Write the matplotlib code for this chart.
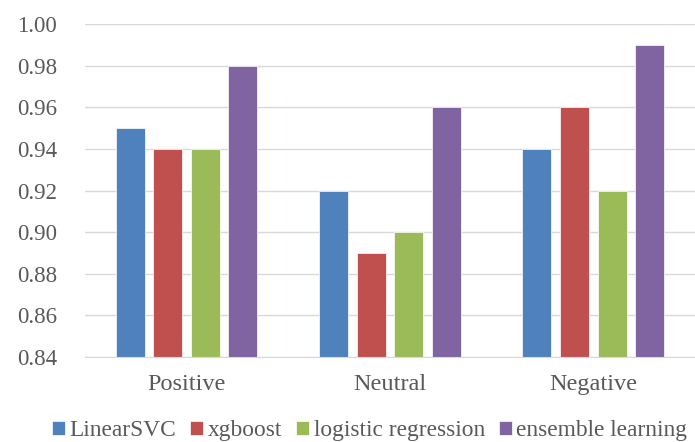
import matplotlib.pyplot as plt
import numpy as np

plt.rcParams['font.family'] = ['Liberation Serif', 'DejaVu Serif']

categories = ["Positive", "Neutral", "Negative"]
models = ["LinearSVC", "xgboost", "logistic regression", "ensemble learning"]
scores = [
    [0.95, 0.92, 0.94],  # LinearSVC
    [0.94, 0.89, 0.96],  # xgboost
    [0.94, 0.90, 0.92],  # logistic regression
    [0.98, 0.96, 0.99],  # ensemble learning
]
yticks = [0.84, 0.86, 0.88, 0.90, 0.92, 0.94, 0.96, 0.98, 1.00]
colors = ["#4F81BD", "#C0504D", "#9BBB59", "#8064A2"]

fig = plt.figure(figsize=(6.95, 4.42), dpi=100)
ax = fig.add_axes([0.122, 0.192, 0.878, 0.754])

x = np.arange(len(categories))
width = 0.143
step = 0.185
for i, name in enumerate(models):
    offset = (i - 1.5) * step
    ax.bar(x + offset, scores[i], width, color=colors[i], label=name,
           edgecolor="white", linewidth=0.5, zorder=3)

ax.set_xlim(-0.5, 2.5)
ax.set_ylim(0.84, 1.00)
ax.set_yticks(yticks)
ax.set_yticklabels([f"{t:.2f}" for t in yticks])
ax.set_xticks(x)
ax.set_xticklabels(categories)
ax.tick_params(axis="both", length=0, colors="#595959")
ax.tick_params(axis="y", pad=20, labelsize=16.5)
ax.tick_params(axis="x", pad=12, labelsize=17.5)
ax.yaxis.grid(True, color="#D9D9D9", linewidth=1, zorder=0)
for s in ["top", "right", "left"]:
    ax.spines[s].set_visible(False)
ax.spines["bottom"].set_color("#D9D9D9")
ax.spines["bottom"].set_zorder(4)

leg = ax.legend(loc="upper center", bbox_to_anchor=(0.467, -0.16), ncol=4,
                frameon=False, fontsize=16.8, handlelength=0.55, handleheight=0.55,
                handletextpad=0.2, columnspacing=0.6, borderaxespad=0)
for t in leg.get_texts():
    t.set_color("#595959")

fig.savefig("out.png", dpi=100)
